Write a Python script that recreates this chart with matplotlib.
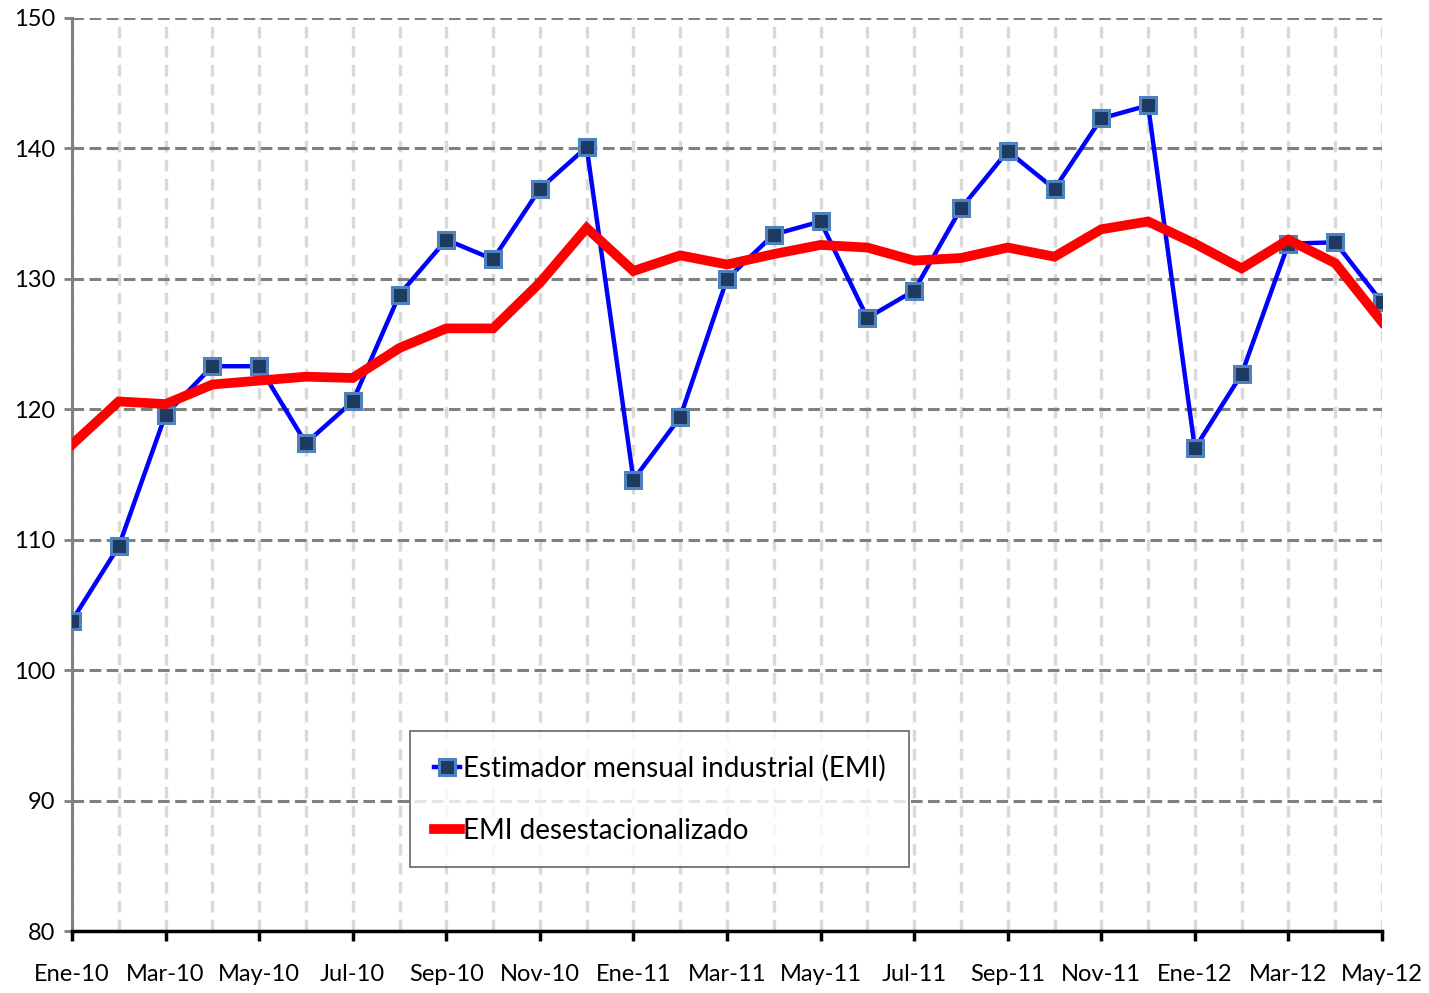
import matplotlib
matplotlib.use("Agg")
import matplotlib.pyplot as plt
import numpy as np

months = ["Ene-10","Feb-10","Mar-10","Abr-10","May-10","Jun-10","Jul-10","Ago-10","Sep-10","Oct-10","Nov-10","Dic-10",
          "Ene-11","Feb-11","Mar-11","Abr-11","May-11","Jun-11","Jul-11","Ago-11","Sep-11","Oct-11","Nov-11","Dic-11",
          "Ene-12","Feb-12","Mar-12","Abr-12","May-12"]
emi = [103.8,109.5,119.6,123.3,123.3,117.4,120.6,128.8,133.0,131.5,136.9,140.1,
       114.6,119.4,130.0,133.4,134.4,127.0,129.1,135.4,139.8,136.9,142.3,143.3,
       117.0,122.7,132.7,132.8,128.2]
emi_sa = [117.3,120.6,120.4,121.9,122.2,122.5,122.4,124.7,126.2,126.2,129.7,133.9,
          130.6,131.8,131.1,131.9,132.6,132.4,131.4,131.6,132.4,131.7,133.8,134.4,
          132.7,130.8,133.0,131.2,126.7]
yticks = [80,90,100,110,120,130,140,150]

plt.rcParams['font.family'] = ['Lato', 'DejaVu Sans']

fig = plt.figure(figsize=(14.29, 9.93), dpi=100)
ax = fig.add_axes([72/1429, 62/993, (1382-72)/1429, (931-18)/993])
x = np.arange(len(months))

# grid
for xi in x:
    ax.axvline(xi, color='#d9d9d9', lw=2.4, ls=(0, (3.5, 2.2)), zorder=0)
for yv in yticks[1:]:
    ax.axhline(yv, color='#808080', lw=2.2, ls=(0, (3.8, 1.8)), zorder=0.5)

ax.plot(x, emi, color='#0000ff', lw=3.2, marker='s', markersize=12,
        markerfacecolor='#1f3a60', markeredgecolor='#4f81bd', markeredgewidth=2.2,
        label='Estimador mensual industrial (EMI)', zorder=3)
ax.plot(x, emi_sa, color='#ff0000', lw=7, label='EMI desestacionalizado', zorder=4,
        solid_joinstyle='miter')

ax.set_xlim(0, len(months)-1)
ax.set_ylim(80, 150)
ax.set_yticks(yticks)
ax.set_xticks(x[::2])
ax.set_xticklabels(months[::2])
ax.set_xticks(x, minor=True)
ax.tick_params(axis='x', which='major', length=7, width=2.5, color='black', labelsize=17, pad=17, direction='out')
ax.tick_params(axis='x', which='minor', length=0)
ax.tick_params(axis='y', length=6, width=2, color='#808080', labelsize=17, pad=6)

for s in ['top', 'right']:
    ax.spines[s].set_visible(False)
ax.spines['left'].set_color('#808080')
ax.spines['left'].set_linewidth(2.2)
ax.spines['bottom'].set_color('black')
ax.spines['bottom'].set_linewidth(2.5)
ax.spines['bottom'].set_zorder(5)

leg = ax.legend(loc='upper left', bbox_to_anchor=((410-72)/1310, (931-731)/913),
                fontsize=20, frameon=True, fancybox=False, edgecolor='#404040',
                handlelength=0.95, handletextpad=0.1, borderpad=0.85, labelspacing=1.3,
                borderaxespad=0)
leg.get_frame().set_linewidth(1.2)
leg.set_zorder(6)

fig.savefig('out.png', dpi=100, facecolor='white')
